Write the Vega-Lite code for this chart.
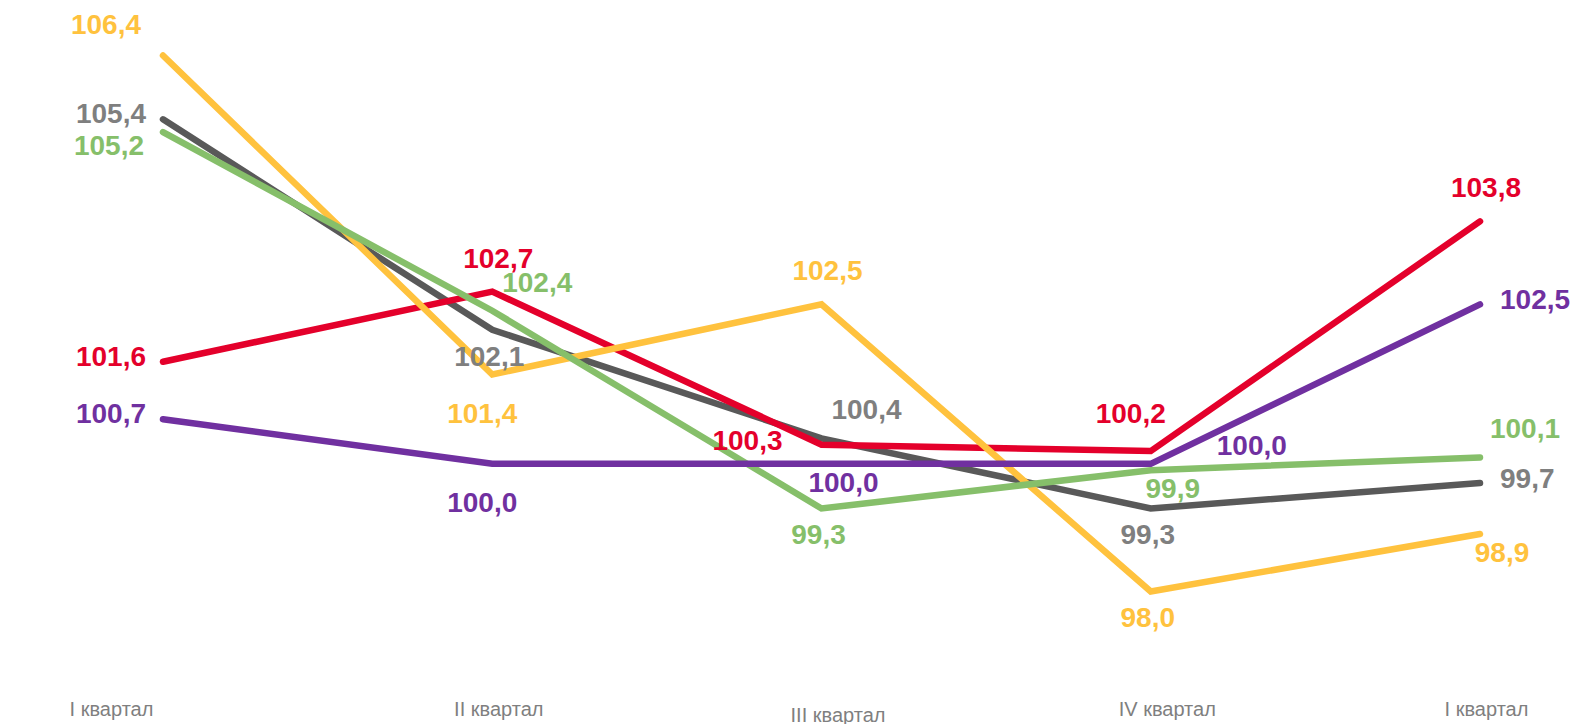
{
  "$schema": "https://vega.github.io/schema/vega-lite/v6.json",
  "width": 1585,
  "height": 690,
  "autosize": "none",
  "padding": {"left": 0, "top": 0, "right": 0, "bottom": 34},
  "background": "white",
  "config": {
    "view": {"stroke": null},
    "locale": {"number": {"decimal": ",", "thousands": " ", "grouping": [3], "currency": ["", ""]}},
    "text": {"font": "Liberation Sans", "fontSize": 28, "fontWeight": "bold", "baseline": "middle"}
  },
  "data": {
    "values": [
      {"quarter": "I квартал", "series": "grey", "value": 105.4, "pos": "left"},
      {"quarter": "II квартал", "series": "grey", "value": 102.1, "pos": "below"},
      {"quarter": "III квартал", "series": "grey", "value": 100.4, "pos": "above-right"},
      {"quarter": "IV квартал", "series": "grey", "value": 99.3, "pos": "below"},
      {"quarter": "I квартал ", "series": "grey", "value": 99.7, "pos": "right"},
      {"quarter": "I квартал", "series": "red", "value": 101.6, "pos": "left"},
      {"quarter": "II квартал", "series": "red", "value": 102.7, "pos": "above"},
      {"quarter": "III квартал", "series": "red", "value": 100.3, "pos": "left-far"},
      {"quarter": "IV квартал", "series": "red", "value": 100.2, "pos": "above-left"},
      {"quarter": "I квартал ", "series": "red", "value": 103.8, "pos": "above"},
      {"quarter": "I квартал", "series": "yellow", "value": 106.4, "pos": "upper-left"},
      {"quarter": "II квартал", "series": "yellow", "value": 101.4, "pos": "below-far"},
      {"quarter": "III квартал", "series": "yellow", "value": 102.5, "pos": "above"},
      {"quarter": "IV квартал", "series": "yellow", "value": 98.0, "pos": "below"},
      {"quarter": "I квартал ", "series": "yellow", "value": 98.9, "pos": "below-right"},
      {"quarter": "I квартал", "series": "green", "value": 105.2, "pos": "left-below"},
      {"quarter": "II квартал", "series": "green", "value": 102.4, "pos": "above-right"},
      {"quarter": "III квартал", "series": "green", "value": 99.3, "pos": "below"},
      {"quarter": "IV квартал", "series": "green", "value": 99.9, "pos": "below-right"},
      {"quarter": "I квартал ", "series": "green", "value": 100.1, "pos": "above-right"},
      {"quarter": "I квартал", "series": "purple", "value": 100.7, "pos": "left"},
      {"quarter": "II квартал", "series": "purple", "value": 100.0, "pos": "below-far"},
      {"quarter": "III квартал", "series": "purple", "value": 100.0, "pos": "below-right"},
      {"quarter": "IV квартал", "series": "purple", "value": 100.0, "pos": "right-above"},
      {"quarter": "I квартал ", "series": "purple", "value": 102.5, "pos": "right"}
    ]
  },
  "encoding": {
    "x": {
      "field": "quarter",
      "type": "ordinal",
      "sort": null,
      "scale": {"type": "point", "range": [163, 1480], "padding": 0},
      "axis": {
        "title": null,
        "domain": false,
        "ticks": false,
        "grid": false,
        "labelAngle": 0,
        "labelFont": "Liberation Sans",
        "labelFontSize": 20,
        "labelColor": "#7F7F7F",
        "labelOverlap": false,
        "labelFlush": false,
        "labelBound": false,
        "labelExpr": "trim(datum.label)",
        "labelPadding": {"condition": {"test": "datum.value == 'III квартал'", "value": 15}, "value": 9},
        "labelOffset": {
          "condition": [
            {"test": "datum.value == 'I квартал'", "value": -52},
            {"test": "datum.value == 'III квартал' || datum.value == 'IV квартал'", "value": 16}
          ],
          "value": 6
        }
      }
    },
    "y": {
      "field": "value",
      "type": "quantitative",
      "scale": {"domain": [96.455, 107.27], "nice": false, "zero": false},
      "axis": null
    }
  },
  "layer": [
    {
      "mark": {"type": "line", "strokeWidth": 6.5, "strokeCap": "round", "strokeJoin": "miter"},
      "encoding": {
        "color": {
          "field": "series",
          "type": "nominal",
          "sort": null,
          "scale": {"domain": ["grey", "red", "yellow", "green", "purple"], "range": ["#595959", "#E4002B", "#FFC23E", "#86BF6A", "#7030A0"]},
          "legend": null
        }
      }
    },
    {
      "encoding": {
        "text": {"field": "value", "type": "quantitative", "format": ".1f"},
        "color": {
          "field": "series",
          "type": "nominal",
          "sort": null,
          "scale": {"domain": ["grey", "red", "yellow", "green", "purple"], "range": ["#7F7F7F", "#E4002B", "#FFC23E", "#86BF6A", "#7030A0"]},
          "legend": null
        }
      },
      "layer": [
        {"transform": [{"filter": "datum.pos == 'left'"}], "mark": {"type": "text", "align": "right", "dx": -17, "dy": -4}},
        {"transform": [{"filter": "datum.pos == 'left-below'"}], "mark": {"type": "text", "align": "right", "dx": -19, "dy": 15}},
        {"transform": [{"filter": "datum.pos == 'left-far'"}], "mark": {"type": "text", "align": "right", "dx": -39, "dy": -3}},
        {"transform": [{"filter": "datum.pos == 'upper-left'"}], "mark": {"type": "text", "align": "right", "dx": -22, "dy": -30}},
        {"transform": [{"filter": "datum.pos == 'right'"}], "mark": {"type": "text", "align": "left", "dx": 20, "dy": -3}},
        {"transform": [{"filter": "datum.pos == 'above'"}], "mark": {"type": "text", "align": "center", "dx": 6, "dy": -32}},
        {"transform": [{"filter": "datum.pos == 'above-left'"}], "mark": {"type": "text", "align": "center", "dx": -20, "dy": -36}},
        {"transform": [{"filter": "datum.pos == 'above-right'"}], "mark": {"type": "text", "align": "center", "dx": 45, "dy": -27}},
        {"transform": [{"filter": "datum.pos == 'right-above'"}], "mark": {"type": "text", "align": "left", "dx": 66, "dy": -17}},
        {"transform": [{"filter": "datum.pos == 'below'"}], "mark": {"type": "text", "align": "center", "dx": -3, "dy": 28}},
        {"transform": [{"filter": "datum.pos == 'below-far'"}], "mark": {"type": "text", "align": "center", "dx": -10, "dy": 40}},
        {"transform": [{"filter": "datum.pos == 'below-right'"}], "mark": {"type": "text", "align": "center", "dx": 22, "dy": 20}}
      ]
    }
  ],
  "resolve": {"scale": {"color": "independent"}}
}
